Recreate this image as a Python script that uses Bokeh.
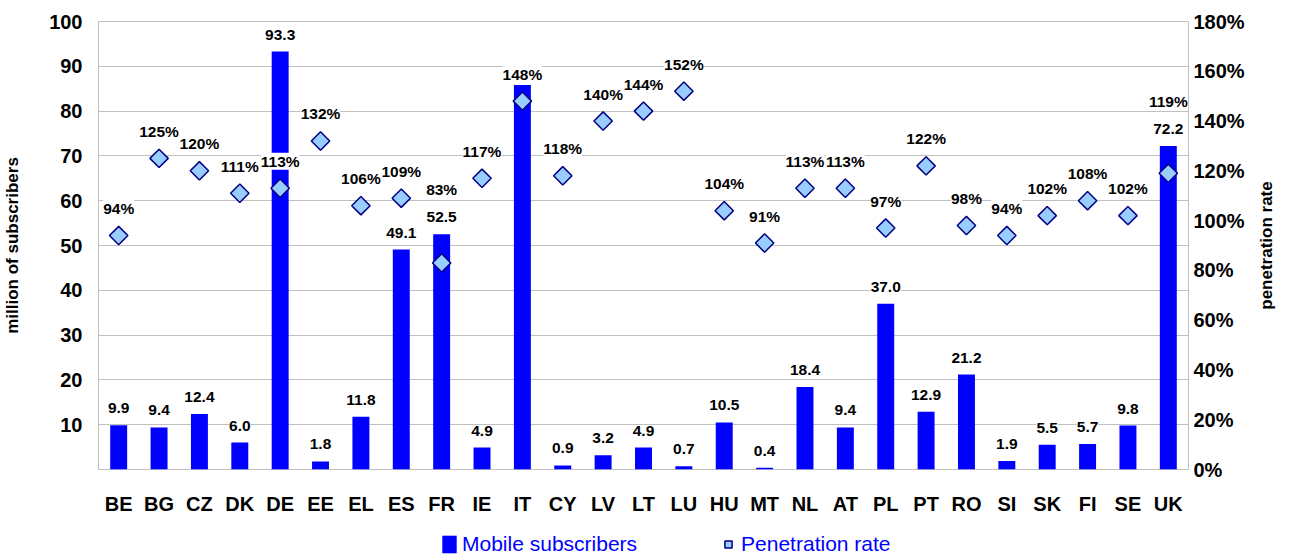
import math
from bokeh.plotting import figure
from bokeh.layouts import column, row
from bokeh.models import (ColumnDataSource, FactorRange, Range1d, LinearAxis, FixedTicker,
                          PrintfTickFormatter, LabelSet, Legend, LegendItem, Title)
from bokeh.core.properties import value
from bokeh.embed import file_html
from bokeh.resources import INLINE

# ---------------- data ----------------
countries = ["BE", "BG", "CZ", "DK", "DE", "EE", "EL", "ES", "FR", "IE", "IT", "CY", "LV", "LT",
             "LU", "HU", "MT", "NL", "AT", "PL", "PT", "RO", "SI", "SK", "FI", "SE", "UK"]
subscribers = [9.9, 9.4, 12.4, 6.0, 93.3, 1.8, 11.8, 49.1, 52.5, 4.9, 85.8, 0.9, 3.2, 4.9,
               0.7, 10.5, 0.4, 18.4, 9.4, 37.0, 12.9, 21.2, 1.9, 5.5, 5.7, 9.8, 72.2]
penetration = [94, 125, 120, 111, 113, 132, 106, 109, 83, 117, 148, 118, 140, 144,
               152, 104, 91, 113, 113, 97, 122, 98, 94, 102, 108, 102, 119]
left_ticks = [10, 20, 30, 40, 50, 60, 70, 80, 90, 100]
right_ticks = [0, 20, 40, 60, 80, 100, 120, 140, 160, 180]
hidden_value_labels = ["IT"]          # value label covered in the original
lifted_rate_labels = ["FR", "UK"]     # rate label placed above the value label

FONT = "Liberation Sans"
BLUE = "#0000ff"
GRID = "#c0c0c0"
DIAMOND = dict(marker="square", angle=math.pi / 4, fill_color="#99ccff",
               line_color="#000080", line_width=1.5)

src = ColumnDataSource(dict(cat=countries, subs=subscribers, pen=penetration))

p = figure(x_range=FactorRange(factors=countries, range_padding=0),
           y_range=Range1d(0, 100),
           width=1254, height=517,
           min_border_left=94, min_border_right=66, min_border_top=21, min_border_bottom=47,
           output_backend="svg", toolbar_location=None)
p.extra_y_ranges = {"pen": Range1d(0, 180)}

p.outline_line_color = GRID
p.outline_line_width = 1
p.xgrid.visible = False
p.ygrid.grid_line_color = GRID
p.ygrid.grid_line_width = 1
p.background_fill_color = "white"
p.border_fill_color = "white"

bars = p.vbar(x="cat", top="subs", width=0.42, source=src, fill_color=BLUE, line_color=None)
pts = p.scatter(x="cat", y="pen", source=src, y_range_name="pen", size=13, **DIAMOND)

# axes
xa = p.xaxis[0]
xa.axis_line_color = None
xa.major_tick_line_color = None
xa.minor_tick_line_color = None
xa.major_tick_out = 0
xa.major_tick_in = 0
xa.major_label_text_font = FONT
xa.major_label_text_font_style = "bold"
xa.major_label_text_font_size = "20px"
xa.major_label_text_color = "black"
xa.major_label_standoff = 23

ya = p.yaxis[0]
ya.ticker = FixedTicker(ticks=left_ticks)
ya.axis_line_color = None
ya.major_tick_line_color = None
ya.minor_tick_line_color = None
ya.major_tick_out = 0
ya.major_tick_in = 0
ya.major_label_text_font = FONT
ya.major_label_text_font_style = "bold"
ya.major_label_text_font_size = "20px"
ya.major_label_text_color = "black"
ya.major_label_standoff = 16
ya.axis_label = "million of subscribers"
ya.axis_label_text_font = FONT
ya.axis_label_text_font_style = "bold"
ya.axis_label_text_font_size = "17px"
ya.axis_label_text_color = "black"
ya.axis_label_standoff = 24

ra = LinearAxis(y_range_name="pen", ticker=FixedTicker(ticks=right_ticks),
                formatter=PrintfTickFormatter(format="%d%%"))
ra.axis_line_color = None
ra.major_tick_line_color = None
ra.minor_tick_line_color = None
ra.major_tick_out = 0
ra.major_tick_in = 0
ra.major_label_text_font = FONT
ra.major_label_text_font_style = "bold"
ra.major_label_text_font_size = "20px"
ra.major_label_text_color = "black"
ra.major_label_standoff = 5
p.add_layout(ra, "right")

# data labels
val_rows = [(c, v) for c, v in zip(countries, subscribers) if c not in hidden_value_labels]
val_src = ColumnDataSource(dict(cat=[r[0] for r in val_rows], y=[r[1] for r in val_rows],
                                txt=["%.1f" % r[1] for r in val_rows]))
pen_rows = [(c, v) for c, v in zip(countries, penetration) if c not in lifted_rate_labels]
pen_src = ColumnDataSource(dict(cat=[r[0] for r in pen_rows], y=[r[1] for r in pen_rows],
                                txt=["%d%%" % r[1] for r in pen_rows]))
lift_rows = [(c, s, v) for c, s, v in zip(countries, subscribers, penetration) if c in lifted_rate_labels]
lift_src = ColumnDataSource(dict(cat=[r[0] for r in lift_rows], y=[r[1] for r in lift_rows],
                                 txt=["%d%%" % r[2] for r in lift_rows]))

common = dict(text_font=value(FONT), text_font_style="bold", text_font_size=value("15.5px"),
              text_color="black", text_align="center", text_baseline="middle",
              background_fill_color="white")
p.add_layout(LabelSet(x="cat", y="y", text="txt", source=val_src, y_offset=17, **common))
p.add_layout(LabelSet(x="cat", y="y", text="txt", source=pen_src, y_range_name="pen",
                      y_offset=27, **common))
p.add_layout(LabelSet(x="cat", y="y", text="txt", source=lift_src, y_offset=45, **common))

# ---------------- right-hand title strip (reads bottom to top) ----------------
tf = figure(width=24, height=517, x_range=Range1d(0, 1), y_range=Range1d(0, 1),
            min_border_left=21, min_border_right=0, min_border_top=21, min_border_bottom=47,
            x_axis_location=None, y_axis_location=None,
            output_backend="svg", toolbar_location=None)
tf.outline_line_color = None
tf.xgrid.visible = False
tf.ygrid.visible = False
tf.background_fill_color = "white"
tf.border_fill_color = "white"
tf.add_layout(Title(text="penetration rate", align="center", text_font=FONT,
                    text_font_size="17px", text_font_style="bold", text_color="black",
                    standoff=0, offset=0), "left")

# ---------------- legend strip below the chart ----------------
# same data, drawn in a window that shows none of it: only the legend keys appear
lg = figure(width=1278, height=39, x_range=p.x_range, y_range=Range1d(1000, 1001),
            min_border_left=94, min_border_right=60, min_border_top=0, min_border_bottom=0,
            x_axis_location=None, y_axis_location=None,
            output_backend="svg", toolbar_location=None)
lg.outline_line_color = None
lg.xgrid.visible = False
lg.ygrid.visible = False
lg.background_fill_color = "white"
lg.border_fill_color = "white"
leg_bar = lg.vbar(x="cat", top="subs", width=0.42, source=src, fill_color=BLUE, line_color=None)
leg_pt = lg.scatter(x="cat", y="pen", source=src, size=13, **DIAMOND)
legend = Legend(items=[LegendItem(label="Mobile subscribers", renderers=[leg_bar]),
                       LegendItem(label="Penetration rate", renderers=[leg_pt])],
                location=(346, 0), orientation="horizontal",
                label_text_font=FONT, label_text_font_size="21px", label_text_color=BLUE,
                glyph_width=18, glyph_height=22, label_standoff=4, spacing=82,
                padding=0, margin=0, border_line_color=None, background_fill_alpha=0)
lg.add_layout(legend)

layout = column(row(p, tf, spacing=0), lg, spacing=0)
open("out.html", "w").write(file_html(layout, INLINE))
